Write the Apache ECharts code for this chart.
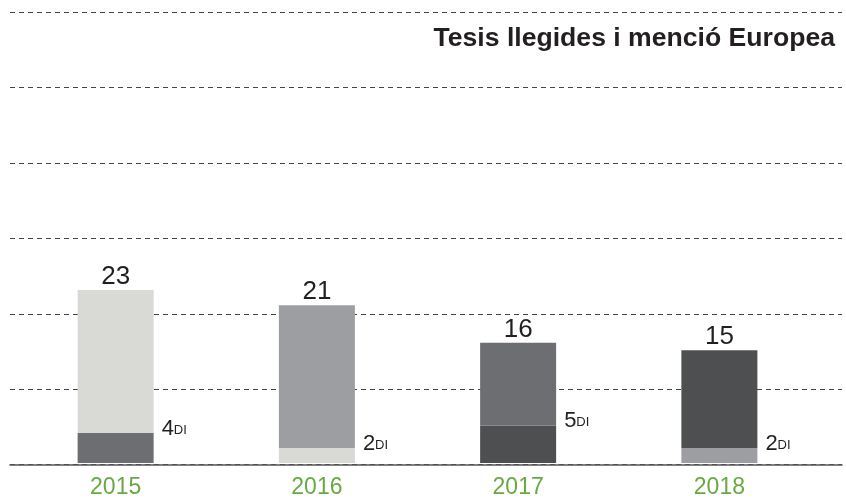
<!DOCTYPE html>
<html><head><meta charset="utf-8">
<script src="https://cdn.jsdelivr.net/npm/echarts@6/dist/echarts.min.js"></script>
<style>html,body{margin:0;padding:0;background:#fff}#c{width:846px;height:499px}</style>
</head><body><div id="c"></div>
<script>
const years = ['2015', '2016', '2017', '2018'];
const totals = [23, 21, 16, 15];
const diValues = [4, 2, 5, 2];
const titleText = 'Tesis llegides i menció Europea';
const yTicks = [0, 10, 20, 30, 40, 50, 60];

const topColors = ['#d9d9d5', '#9d9ea1', '#6d6e71', '#4e4f51'];
const bottomColors = ['#6d6e71', '#d9d9d5', '#4e4f51', '#9d9ea1'];
const FONT = '"Liberation Sans", Arial, sans-serif';

const chart = echarts.init(document.getElementById('c'), null, {renderer: 'canvas'});
const restValues = totals.map((t, i) => t - diValues[i]);

chart.setOption({
  animation: false,
  backgroundColor: '#fff',
  title: {
    text: titleText, right: 6, top: 20,
    textStyle: {fontFamily: FONT, fontWeight: 'bold', fontSize: 26.6, color: '#231f20'}
  },
  grid: [
    {left: 15, right: 26, top: 12, bottom: 34.3},
    {left: 10, right: 4, top: 12, bottom: 34.3}
  ],
  xAxis: [
    {type: 'category', gridIndex: 0, data: years,
     axisLine: {show: false}, axisTick: {show: false},
     axisLabel: {fontFamily: FONT, fontSize: 23, color: '#67a942', margin: 13}},
    {type: 'category', gridIndex: 1, data: years,
     axisLine: {show: true, lineStyle: {color: '#555', width: 1.5}},
     axisTick: {show: false}, axisLabel: {show: false}}
  ],
  yAxis: [
    {type: 'value', gridIndex: 0, min: yTicks[0], max: yTicks[yTicks.length - 1], interval: 10,
     axisLine: {show: false}, axisTick: {show: false}, axisLabel: {show: false}, splitLine: {show: false}},
    {type: 'value', gridIndex: 1, min: yTicks[0], max: yTicks[yTicks.length - 1], interval: 10,
     axisLine: {show: false}, axisTick: {show: false}, axisLabel: {show: false},
     splitLine: {show: true, lineStyle: {color: '#444', width: 1, type: [5, 4]}}}
  ],
  series: [
    {
      type: 'bar', stack: 's', xAxisIndex: 0, yAxisIndex: 0, barWidth: 76,
      data: diValues.map((v, i) => ({value: v, itemStyle: {color: bottomColors[i]}})),
      label: {
        show: true, position: ['100%', 0], offset: [8, -5], align: 'left', verticalAlign: 'middle',
        formatter: p => '{n|' + p.value + '}{d|DI}',
        rich: {
          n: {fontFamily: FONT, fontSize: 22, color: '#231f20', verticalAlign: 'bottom', lineHeight: 24},
          d: {fontFamily: FONT, fontSize: 13, color: '#231f20', verticalAlign: 'bottom', lineHeight: 24, padding: [0, 0, 3, 0]}
        }
      }
    },
    {
      type: 'bar', stack: 's', xAxisIndex: 0, yAxisIndex: 0, barWidth: 76,
      data: restValues.map((v, i) => ({value: v, itemStyle: {color: topColors[i]}})),
      label: {
        show: true, position: 'top', distance: 0,
        formatter: p => String(totals[p.dataIndex]),
        fontFamily: FONT, fontSize: 26, color: '#231f20'
      }
    }
  ]
});
</script></body></html>
